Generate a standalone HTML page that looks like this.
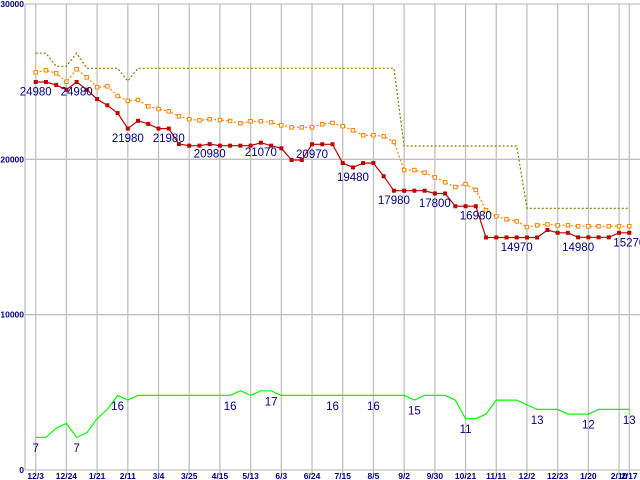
<!DOCTYPE html>
<html><head><meta charset="utf-8"><style>
html,body{margin:0;padding:0;background:#fff;width:640px;height:480px;overflow:hidden}
svg{display:block}
text{font-family:"Liberation Sans",sans-serif}
</style></head><body>
<svg id="chart" width="640" height="480" xmlns="http://www.w3.org/2000/svg"></svg>
<script>
const dateLabels=["12/3","12/24","1/21","2/11","3/4","3/25","4/15","5/13","6/3","6/24","7/15","8/5","9/2","9/30","10/21","11/11","12/2","12/23","1/20","2/10","2/17"];
const dateIdx=[0,3,6,9,12,15,18,21,24,27,30,33,36,39,42,45,48,51,54,57,58];
const yTicks=[0,10000,20000,30000];
const minPrice=[24980,24980,24780,24480,24980,24480,23880,23480,22980,21980,22480,22280,21980,21980,20980,20880,20880,20980,20880,20880,20880,20880,21070,20880,20710,19960,19960,20970,20970,20970,19760,19480,19760,19760,18910,17980,17980,17980,17980,17800,17800,16980,16980,16980,14970,14970,14970,14970,14970,14970,15450,15270,15270,14980,14980,14980,14980,15270,15270];
const avgPrice=[25600,25730,25540,25000,25800,25280,24640,24700,24080,23760,23820,23410,23240,23090,22770,22580,22510,22580,22530,22470,22320,22450,22450,22380,22190,22060,22060,22060,22260,22340,22130,21870,21550,21550,21480,21120,19310,19310,19140,18840,18520,18220,18410,18030,16720,16330,16140,16010,15640,15750,15810,15750,15750,15690,15690,15690,15690,15690,15690];
const maxPrice=[26830,26830,25990,25990,26830,25860,25860,25860,25860,25040,25860,25860,25860,25860,25860,25860,25860,25860,25860,25860,25860,25860,25860,25860,25860,25860,25860,25860,25860,25860,25860,25860,25860,25860,25860,25860,20860,20860,20860,20860,20860,20860,20860,20860,20860,20860,20860,20860,16850,16850,16850,16850,16850,16850,16850,16850,16850,16850,16850];
const shops=[7,7,9,10,7,8,11,13,16,15,16,16,16,16,16,16,16,16,16,16,17,16,17,17,16,16,16,16,16,16,16,16,16,16,16,16,16,15,16,16,16,15,11,11,12,15,15,15,14,13,13,13,12,12,12,13,13,13,13];
const minLabelIdx=[0,4,9,13,17,22,27,31,35,39,43,47,53,58];
const shopLabelIdx=[0,4,8,19,23,29,33,37,42,49,54,58];

const NS="http://www.w3.org/2000/svg";
const svg=document.getElementById('chart');
const x=i=>35.7+i*(593.6/58);
const y=v=>470-v*(466/30000);
const ys=v=>y(v*300);
function mk(t,a,p){const e=document.createElementNS(NS,t);for(const k in a)e.setAttribute(k,a[k]);(p||svg).appendChild(e);return e;}

const grid=mk('g',{});


dateIdx.forEach((d,k)=>{
  const l=mk('line',{x1:x(d),x2:x(d),y1:4,y2:474,stroke:'#c0c0c0','stroke-width':1.3},grid);
  
  
  const t=mk('text',{x:x(d),y:479,'text-anchor':'middle','font-size':8.5,'font-weight':'bold',fill:'#000080'});
  t.textContent=dateLabels[k];
  
  
});
yTicks.forEach(v=>{
  const l=mk('line',{x1:25,x2:640,y1:y(v),y2:y(v),stroke:'#c0c0c0','stroke-width':1.3},grid);
  
  
  const t=mk('text',{x:24,y:y(v)+3,'text-anchor':'end','font-size':8.5,'font-weight':'bold',fill:'#000080'});
  t.textContent=String(v);
  
  
});
const ax=mk('line',{x1:25,x2:25,y1:4,y2:470,stroke:'#c0c0c0','stroke-width':1.3});



function pts(arr,f){return arr.map((v,i)=>x(i).toFixed(1)+','+f(v).toFixed(1)).join(' ');}
const ol=mk('polyline',{points:pts(maxPrice,y),fill:'none',stroke:'#808000','stroke-width':1.2,'stroke-dasharray':'2,2'});


const or=mk('polyline',{points:pts(avgPrice,y),fill:'none',stroke:'#ff8000','stroke-width':1.2,'stroke-dasharray':'2,2'});


avgPrice.forEach((v,i)=>{
  const r=mk('rect',{x:x(i)-1.75,y:y(v)-1.75,width:3.5,height:3.5,fill:'#fff',stroke:'#ff8000','stroke-width':1});
  
  
});
const rd=mk('polyline',{points:pts(minPrice,y),fill:'none',stroke:'#c00000','stroke-width':1.2});


minPrice.forEach((v,i)=>{
  const r=mk('rect',{x:x(i)-2,y:y(v)-2,width:4,height:4,fill:'#c00000'});
  
  
});
const gr=mk('polyline',{points:pts(shops,ys),fill:'none',stroke:'#00ff00','stroke-width':1.2});


minLabelIdx.forEach(i=>{
  const t=mk('text',{x:x(i),y:y(minPrice[i])+13.5,'text-anchor':'middle','font-size':11.5,fill:'#000080'});
  t.textContent=String(minPrice[i]);
  
  
});
shopLabelIdx.forEach(i=>{
  const t=mk('text',{x:x(i),y:ys(shops[i])+14.5,'text-anchor':'middle','font-size':11.5,fill:'#000080'});
  t.textContent=String(shops[i]);
  
  
});
</script>
</body></html>
